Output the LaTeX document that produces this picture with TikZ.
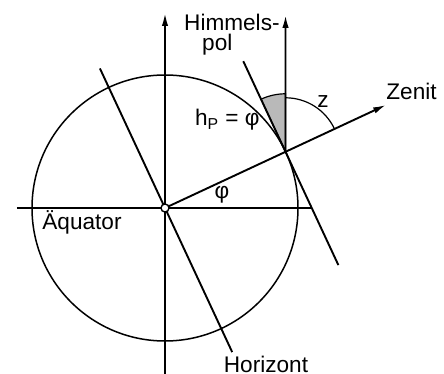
\documentclass[tikz,border=0pt]{standalone}
\usepackage{fontspec}
\setmainfont{Liberation Sans}
\usetikzlibrary{arrows.meta,calc}
\begin{document}
\begin{tikzpicture}[x=0.5pt,y=0.5pt,font=\fontsize{11.3}{10}\selectfont,
  linie/.style={line width=0.95pt},
  pfeil/.style={line width=0.95pt,-{Latex[length=6.5pt,width=3.2pt]}}]
  \useasboundingbox (-165,-166) rectangle (279,208);
  \coordinate (O) at (0,0);
  \coordinate (P) at (25:133);
  \coordinate (Z) at (25:244);
  \coordinate (Pol) at (120.54,193);
  \coordinate (S) at (0,-166); \coordinate (N) at (0,195);
  \coordinate (W) at (-148,0); \coordinate (E) at (147,0);
  \coordinate (H1) at (115:154); \coordinate (H2) at (-65:159);
  \coordinate (T1) at ($(P)+(115:100)$); \coordinate (T2) at ($(P)+(-65:125)$);

  \filldraw[fill=gray!55,line width=0.6pt] (P) -- ++(90:58) arc[start angle=90,end angle=115,radius=29pt] -- cycle;
  \draw[line width=0.6pt] ([shift={(90:54)}]P) arc[start angle=90,end angle=25,radius=27pt];
  \draw[line width=0.75pt] (O) circle[radius=66.5pt];
  \draw[pfeil] (S) -- (N);
  \draw[linie] (W) -- (E);
  \draw[linie] (H1) -- (H2);
  \draw[linie] (T1) -- (T2);
  \draw[pfeil] (P) -- (Pol);
  \draw[pfeil] (O) -- (Z);
  \node[draw,circle,fill=white,inner sep=0,minimum size=4pt,line width=0.7pt] (Om) at (O) {};

  \node[anchor=north east,inner sep=0,align=left] (hpol) at (115,194) {Himmels-\\\hspace*{9pt}pol};
  \node[anchor=west,inner sep=0] (zenit) at (221,117) {Zenit};
  \node (zlab) at (158,106) {z};
  \node[anchor=east,inner sep=0] (hp) at (95,88) {h\textsubscript{P} = φ};
  \node (phi) at (57,13) {φ};
  \node (aeq) at (-83,-14) {Äquator};
  \node (hor) at (101,-156) {Horizont};
\end{tikzpicture}
\end{document}
